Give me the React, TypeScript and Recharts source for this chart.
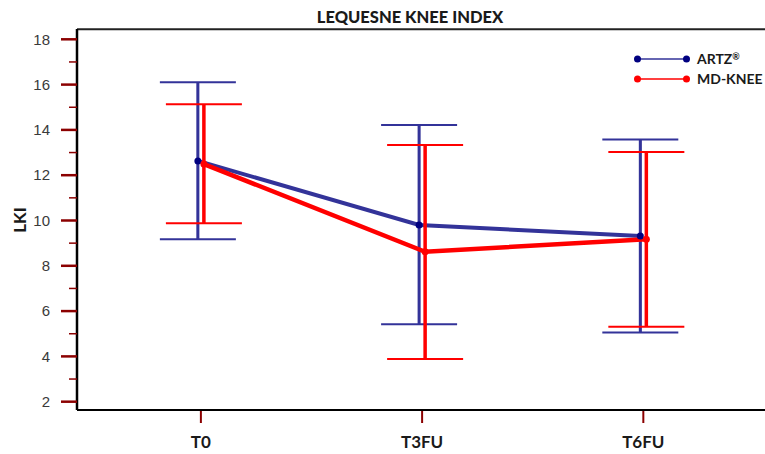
import React from 'react';
import { LineChart, Line, XAxis, YAxis, ErrorBar, ReferenceLine, Legend } from 'recharts';

const categories = ['T0', 'T3FU', 'T6FU'];
const seriesNames = ['ARTZ®', 'MD-KNEE'];
const artzMean = [12.63, 9.8, 9.32];
const artzUpper = [16.1, 14.22, 13.58];
const artzLower = [9.17, 5.42, 5.05];
const mdMean = [12.49, 8.62, 9.17];
const mdUpper = [15.13, 13.33, 13.02];
const mdLower = [9.88, 3.89, 5.31];
const yTickLabels = [2, 4, 6, 8, 10, 12, 14, 16, 18];

const BLUE = '#333399';
const NAVY = '#000080';
const RED = '#ff0000';
const TICK_RED = '#8b0000';
const SHIFT = 0.0136;
const Y_DOMAIN: [number, number] = [1.633, 18.455];
const X_DOMAIN: [number, number] = [-0.56, 2.55];

const build = (mean: number[], upper: number[], lower: number[], shift: number) =>
  categories.map((c, i) => ({
    x: i + shift,
    cat: c,
    mean: mean[i],
    err: [mean[i] - lower[i], upper[i] - mean[i]],
  }));

const artzData = build(artzMean, artzUpper, artzLower, -SHIFT);
const mdData = build(mdMean, mdUpper, mdLower, SHIFT);

const allYTicks: number[] = [];
yTickLabels.forEach((v, i) => {
  allYTicks.push(v);
  if (i < yTickLabels.length - 1) allYTicks.push(v + 1);
});

const YTick = (props: any) => {
  const { x, y, payload } = props;
  const v = payload.value;
  const major = yTickLabels.includes(v);
  return (
    <g>
      <line x1={x - (major ? 16 : 8)} x2={x} y1={y} y2={y} stroke={TICK_RED} strokeWidth={major ? 2.5 : 1.5} />
      {major && (
        <text x={x - 27} y={y} dy={5.3} textAnchor="end" fontFamily="'Liberation Sans', Arial, sans-serif" fontSize={15} fill="#3a3a3a">
          {v}
        </text>
      )}
    </g>
  );
};

const XTick = (props: any) => {
  const { x, y, payload } = props;
  return (
    <g>
      <line x1={x} x2={x} y1={y + 1} y2={y + 13} stroke={TICK_RED} strokeWidth={2} />
      <text x={x} y={y + 37.5} textAnchor="middle" fontFamily="Lato, sans-serif" fontWeight="bold" fontSize={17} fill="#1a1a1a">
        {categories[Math.round(payload.value)]}
      </text>
    </g>
  );
};

const LegendContent = (props: any) => {
  const payload = props.payload || [];
  return (
    <div>
      {payload.map((entry: any, i: number) => {
        const dotColor = entry.value === seriesNames[0] ? NAVY : RED;
        const label = String(entry.value);
        const hasReg = label.endsWith('®');
        return (
          <div key={i} style={{ display: 'flex', alignItems: 'center', height: 20 }}>
            <svg width={56} height={10} style={{ display: 'block' }}>
              <line x1={3} x2={53} y1={5} y2={5} stroke={entry.color} strokeWidth={1.5} />
              <circle cx={3.5} cy={5} r={3.5} fill={dotColor} />
              <circle cx={52.5} cy={5} r={3.5} fill={dotColor} />
            </svg>
            <span style={{ marginLeft: 7, fontFamily: 'Lato, sans-serif', fontWeight: 'bold', fontSize: 14, color: '#1a1a1a', lineHeight: '14px' }}>
              {hasReg ? label.slice(0, -1) : label}
              {hasReg && <sup style={{ fontSize: 9, verticalAlign: 'top', lineHeight: '9px' }}>®</sup>}
            </span>
          </div>
        );
      })}
    </div>
  );
};

const YLabel = () => (
  <text x={19} y={220} transform="rotate(-90 19 220)" textAnchor="middle" dominantBaseline="central" fontFamily="Lato, sans-serif" fontWeight="bold" fontSize={17} fill="#1a1a1a">
    LKI
  </text>
);

export default function App() {
  return (
    <div style={{ position: 'absolute', left: 0, top: 0, width: 765, height: 454, background: '#fff' }}>
      <div
        style={{
          position: 'absolute',
          left: 260,
          width: 300,
          top: 9,
          textAlign: 'center',
          fontFamily: 'Lato, sans-serif',
          fontWeight: 900,
          fontSize: 16.5,
          lineHeight: '16px',
          color: '#1a1a1a',
          zIndex: 2,
        }}
      >
        LEQUESNE KNEE INDEX
      </div>
      <LineChart width={765} height={454} margin={{ top: 29, right: 0, bottom: 0, left: 17 }}>
        <XAxis
          type="number"
          dataKey="x"
          domain={X_DOMAIN}
          allowDataOverflow
          ticks={[0, 1, 2]}
          interval={0}
          height={44}
          tickSize={0}
          tickMargin={0}
          tickLine={false}
          axisLine={{ stroke: '#000', strokeWidth: 2 }}
          tick={<XTick />}
        />
        <YAxis
          type="number"
          domain={Y_DOMAIN}
          allowDataOverflow
          ticks={allYTicks}
          interval={0}
          width={60}
          tickSize={0}
          tickMargin={0}
          tickLine={false}
          axisLine={{ stroke: '#000', strokeWidth: 2.5 }}
          tick={<YTick />}
          label={<YLabel />}
        />
        <ReferenceLine y={18.44} stroke="#222" strokeWidth={2} />
        <Legend
          layout="vertical"
          align="center"
          verticalAlign="middle"
          content={<LegendContent />}
          wrapperStyle={{ position: 'absolute', left: 634, top: 49, width: 131 }}
        />
        <Line
          name={seriesNames[0]}
          data={artzData}
          dataKey="mean"
          stroke={BLUE}
          strokeWidth={4}
          dot={{ r: 3.5, fill: NAVY, stroke: NAVY, strokeWidth: 0 }}
          activeDot={false}
          isAnimationActive={false}
        >
          <ErrorBar dataKey="err" direction="y" width={38} stroke={BLUE} strokeWidth={2} isAnimationActive={false} />
          <ErrorBar dataKey="err" direction="y" width={0} stroke={BLUE} strokeWidth={3} isAnimationActive={false} />
        </Line>
        <Line
          name={seriesNames[1]}
          data={mdData}
          dataKey="mean"
          stroke={RED}
          strokeWidth={4.5}
          dot={{ r: 3.5, fill: RED, stroke: RED, strokeWidth: 0 }}
          activeDot={false}
          isAnimationActive={false}
        >
          <ErrorBar dataKey="err" direction="y" width={38} stroke={RED} strokeWidth={2} isAnimationActive={false} />
          <ErrorBar dataKey="err" direction="y" width={0} stroke={RED} strokeWidth={3.5} isAnimationActive={false} />
        </Line>
      </LineChart>
    </div>
  );
}
